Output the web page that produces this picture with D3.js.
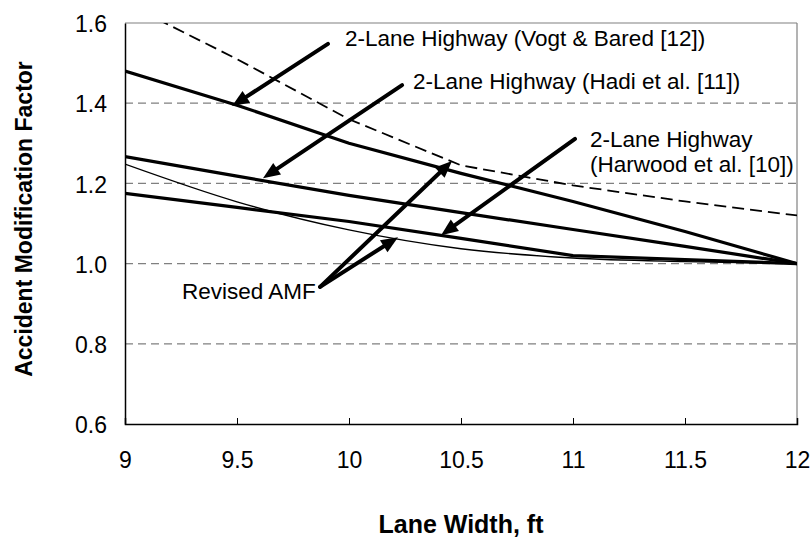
<!DOCTYPE html>
<html>
<head>
<meta charset="utf-8">
<script src="https://cdn.jsdelivr.net/npm/d3@7"></script>
<style>
  html, body { margin: 0; padding: 0; background: #fff; }
  svg { display: block; font-family: "Liberation Sans", Arial, sans-serif; }
</style>
</head>
<body>
<svg id="chart" width="812" height="537"></svg>
<script>
// ---------- data ----------
const laneWidths = [9, 9.5, 10, 10.5, 11, 11.5, 12];
const vogtBared  = [1.48, 1.395, 1.30, 1.225, 1.155, 1.08, 1.0];
const hadi       = [1.267, 1.218, 1.17, 1.127, 1.085, 1.043, 1.0];
const harwood    = [1.175, 1.14, 1.105, 1.063, 1.02, 1.01, 1.0];
const dashedAmf  = [1.65, 1.51, 1.36, 1.245, 1.195, 1.155, 1.12];
const revisedAmf = [1.248, 1.154, 1.084, 1.037, 1.014, 1.005, 1.0];

const xTicks = [9, 9.5, 10, 10.5, 11, 11.5, 12];
const yTicks = [0.6, 0.8, 1.0, 1.2, 1.4, 1.6];
const xTitle = "Lane Width, ft";
const yTitle = "Accident Modification Factor";

// annotations (data coordinates)
const labelTexts = [
  {lines: ["2-Lane Highway (Vogt & Bared [12])"], x: 9.982, y: 1.542},
  {lines: ["2-Lane Highway (Hadi et al. [11])"], x: 10.286, y: 1.435},
  {lines: ["2-Lane Highway", "(Harwood et al. [10])"], x: 11.076, y: 1.291},
  {lines: ["Revised AMF"], x: 9.254, y: 0.912}
];
const arrows = [
  {x1: 9.906, y1: 1.548, x2: 9.478, y2: 1.393},
  {x1: 10.237, y1: 1.445, x2: 9.616, y2: 1.213},
  {x1: 11.009, y1: 1.311, x2: 10.411, y2: 1.071},
  {x1: 9.871, y1: 0.942, x2: 10.46, y2: 1.256},
  {x1: 9.871, y1: 0.942, x2: 10.219, y2: 1.066}
];

// ---------- layout ----------
const svg = d3.select("#chart");
const m = {left: 125, right: 797, top: 23, bottom: 424};
const x = d3.scaleLinear().domain([9, 12]).range([m.left, m.right]);
const y = d3.scaleLinear().domain([0.6, 1.6]).range([m.bottom, m.top]);

svg.append("defs").append("clipPath").attr("id", "plotclip")
  .append("rect").attr("x", m.left).attr("y", m.top)
  .attr("width", m.right - m.left).attr("height", m.bottom - m.top);

// gridlines
svg.append("g").selectAll("line").data(yTicks.filter(d => d > 0.6 && d < 1.6)).join("line")
  .attr("x1", m.left).attr("x2", m.right)
  .attr("y1", d => y(d)).attr("y2", d => y(d))
  .attr("stroke", "#808080").attr("stroke-width", 1.2).attr("stroke-dasharray", "8,5");

// frame top/right
svg.append("line").attr("x1", m.left).attr("x2", m.right).attr("y1", m.top).attr("y2", m.top)
  .attr("stroke", "#808080").attr("stroke-width", 1.2);
svg.append("line").attr("x1", m.right).attr("x2", m.right).attr("y1", m.top).attr("y2", m.bottom)
  .attr("stroke", "#808080").attr("stroke-width", 1.2);

// axes
const xAxis = d3.axisBottom(x).tickValues(xTicks).tickSize(-6).tickPadding(28).tickFormat(d3.format(""));
const gx = svg.append("g").attr("transform", `translate(0,${m.bottom})`).call(xAxis);
gx.select(".domain").attr("stroke", "#000").attr("stroke-width", 1.5);
gx.selectAll(".tick line").attr("stroke", "#000");
gx.selectAll("text").attr("font-size", 23).attr("fill", "#000")
  .attr("font-family", "'Liberation Sans', Arial, sans-serif");

const yAxis = d3.axisLeft(y).tickValues(yTicks).tickSize(0).tickPadding(18).tickFormat(d3.format(".1f"));
const gy = svg.append("g").attr("transform", `translate(${m.left},0)`).call(yAxis);
gy.select(".domain").attr("stroke", "#000").attr("stroke-width", 1.5);
gy.selectAll("text").attr("font-size", 23).attr("fill", "#000").attr("dy", "0.38em")
  .attr("font-family", "'Liberation Sans', Arial, sans-serif");

// axis titles
svg.append("text").attr("x", (m.left + m.right) / 2).attr("y", 533)
  .attr("text-anchor", "middle").attr("font-size", 25).attr("font-weight", "bold")
  .text(xTitle);
svg.append("text").attr("transform", `translate(32,219) rotate(-90)`)
  .attr("text-anchor", "middle").attr("font-size", 23).attr("font-weight", "bold")
  .text(yTitle);

// series
const line = d3.line().x(d => x(d[0])).y(d => y(d[1]));
const mk = arr => laneWidths.map((w, i) => [w, arr[i]]);
const plot = svg.append("g").attr("clip-path", "url(#plotclip)");
plot.append("path").attr("d", line(mk(dashedAmf))).attr("fill", "none")
  .attr("stroke", "#000").attr("stroke-width", 1.8).attr("stroke-dasharray", "12,6");
plot.append("path").attr("d", d3.line().curve(d3.curveMonotoneX).x(d => x(d[0])).y(d => y(d[1]))(mk(revisedAmf)))
  .attr("fill", "none").attr("stroke", "#000").attr("stroke-width", 1.3);
[vogtBared, hadi, harwood].forEach(s => {
  plot.append("path").attr("d", line(mk(s))).attr("fill", "none")
    .attr("stroke", "#000").attr("stroke-width", 3.2).attr("stroke-linejoin", "round");
});

// annotations
labelTexts.forEach(l => {
  const t = svg.append("text").attr("x", x(l.x)).attr("y", y(l.y))
    .attr("font-size", 22.5).attr("fill", "#000");
  l.lines.forEach((s, i) => {
    t.append("tspan").attr("x", x(l.x)).attr("dy", i === 0 ? 0 : 25).text(s);
  });
});

const headLen = 17, headW = 7;
arrows.forEach(a => {
  const X1 = x(a.x1), Y1 = y(a.y1), X2 = x(a.x2), Y2 = y(a.y2);
  const dx = X2 - X1, dy = Y2 - Y1, L = Math.hypot(dx, dy);
  const ux = dx / L, uy = dy / L;
  const bx = X2 - ux * headLen, by = Y2 - uy * headLen;
  svg.append("line").attr("x1", X1).attr("y1", Y1).attr("x2", bx + ux * 2).attr("y2", by + uy * 2)
    .attr("stroke", "#000").attr("stroke-width", 4).attr("stroke-linecap", "round");
  svg.append("polygon")
    .attr("points", [[X2, Y2], [bx - uy * headW, by + ux * headW], [bx + uy * headW, by - ux * headW]]
      .map(p => p.join(",")).join(" "))
    .attr("fill", "#000");
});
</script>
</body>
</html>
